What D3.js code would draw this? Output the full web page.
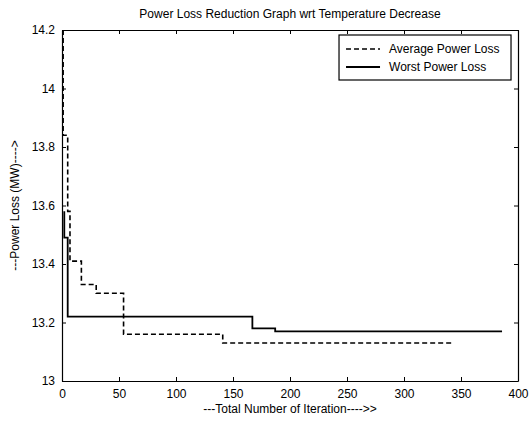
<!DOCTYPE html>
<html>
<head>
<meta charset="utf-8">
<script src="https://cdn.jsdelivr.net/npm/d3@7"></script>
<style>
  body { margin: 0; background: #fff; }
  text { font-family: "Liberation Sans", Arial, sans-serif; fill: #000; }
</style>
</head>
<body>
<div id="chart"></div>
<script>
// donnees
var avgIter = [1, 5, 7, 17, 30, 54, 141, 342];
var avgLoss = [14.2, 13.84, 13.58, 13.41, 13.33, 13.30, 13.16, 13.13];
var worstIter = [2, 5, 167, 187, 386];
var worstLoss = [13.58, 13.49, 13.22, 13.18, 13.17];
var xTicks = [0, 50, 100, 150, 200, 250, 300, 350, 400];
var yTicks = [13, 13.2, 13.4, 13.6, 13.8, 14, 14.2];
var seriesNames = ["Average Power Loss", "Worst Power Loss"];

var W = 530, H = 421;
var margin = {top: 30, right: 12, bottom: 40, left: 62},
    width = W - margin.left - margin.right,
    height = H - margin.top - margin.bottom;

var svg = d3.select("#chart").append("svg")
    .attr("width", W).attr("height", H);
var g = svg.append("g")
    .attr("transform", "translate(" + margin.left + "," + margin.top + ")");

var x = d3.scaleLinear().domain([0, 400]).range([0, width]);
var y = d3.scaleLinear().domain([13, 14.2]).range([height, 0]);

// axes style matlab (ticks vers l'interieur)
var fs = "12px";
g.append("g").attr("transform", "translate(0," + height + ")")
    .call(d3.axisBottom(x).tickValues(xTicks).tickSizeInner(-4).tickSizeOuter(0).tickPadding(8))
    .call(function (a) { a.select(".domain").attr("stroke-width", 1.2); })
    .selectAll("text").style("font-size", fs);
g.append("g")
    .call(d3.axisTop(x).tickValues(xTicks).tickSizeInner(-4).tickSizeOuter(0).tickFormat(""))
    .select(".domain").attr("stroke-width", 1.2);
g.append("g")
    .call(d3.axisLeft(y).tickValues(yTicks).tickSizeInner(-4).tickSizeOuter(0).tickPadding(7)
        .tickFormat(function (d) { return d3.format("~g")(+d.toFixed(1)); }))
    .call(function (a) { a.select(".domain").attr("stroke-width", 1.2); })
    .selectAll("text").style("font-size", fs);
g.append("g").attr("transform", "translate(" + width + ",0)")
    .call(d3.axisRight(y).tickValues(yTicks).tickSizeInner(-4).tickSizeOuter(0).tickFormat(""))
    .select(".domain").attr("stroke-width", 1.2);

// courbes
var line = d3.line()
    .x(function (d) { return x(d[0]); })
    .y(function (d) { return y(d[1]); })
    .curve(d3.curveStepBefore);

var avgData = avgIter.map(function (d, i) { return [d, avgLoss[i]]; });
var worstData = worstIter.map(function (d, i) { return [d, worstLoss[i]]; });

g.append("path").datum(worstData)
    .attr("d", line).attr("fill", "none")
    .attr("stroke", "#000").attr("stroke-width", 1.8);
g.append("path").datum(avgData)
    .attr("d", line).attr("fill", "none")
    .attr("stroke", "#000").attr("stroke-width", 1.6)
    .attr("stroke-dasharray", "5,3");

// legende
var lg = g.append("g").attr("transform", "translate(" + (x(243)) + ",5)");
lg.append("rect").attr("width", 172).attr("height", 45)
    .attr("fill", "#fff").attr("stroke", "#000").attr("stroke-width", 1.2);
seriesNames.forEach(function (name, i) {
    var yy = 14 + i * 18;
    lg.append("line").attr("x1", 7).attr("x2", 41).attr("y1", yy).attr("y2", yy)
        .attr("stroke", "#000").attr("stroke-width", i === 0 ? 1.6 : 1.8)
        .attr("stroke-dasharray", i === 0 ? "5,3" : null);
    lg.append("text").attr("x", 50).attr("y", yy + 4)
        .style("font-size", fs).text(name);
});

// titres
svg.append("text")
    .attr("x", margin.left + width / 2).attr("y", 18)
    .attr("text-anchor", "middle").style("font-size", fs)
    .text("Power Loss Reduction Graph wrt Temperature Decrease");
svg.append("text")
    .attr("x", margin.left + width / 2).attr("y", 413)
    .attr("text-anchor", "middle").style("font-size", fs)
    .text("---Total Number of Iteration---->>");
svg.append("text")
    .attr("transform", "rotate(-90)")
    .attr("x", -(margin.top + height / 2)).attr("y", 19)
    .attr("text-anchor", "middle").style("font-size", fs)
    .text("---Power Loss (MW)---->");
</script>
</body>
</html>
